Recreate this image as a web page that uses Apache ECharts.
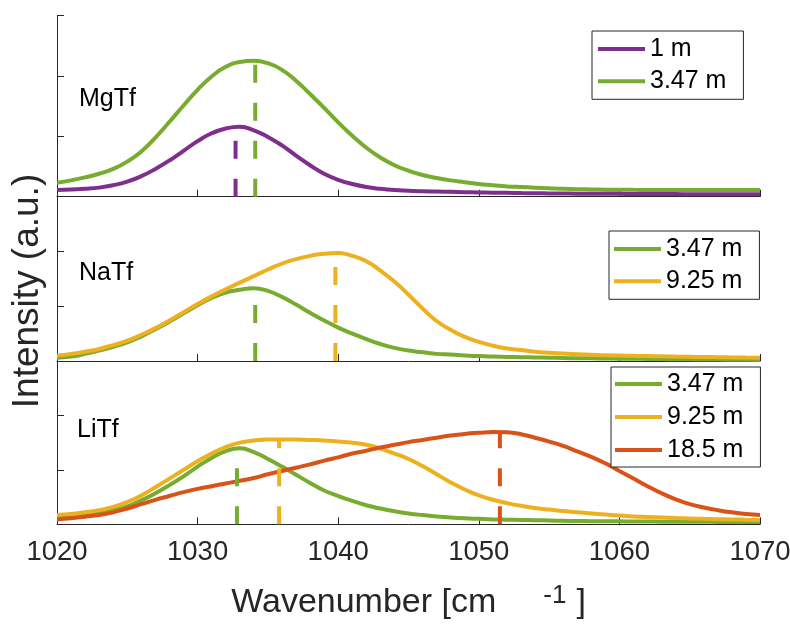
<!DOCTYPE html>
<html><head><meta charset="utf-8">
<script src="https://cdn.jsdelivr.net/npm/echarts@6/dist/echarts.min.js"></script>
<style>html,body{margin:0;padding:0;background:#fff}#c{width:790px;height:624px}</style>
</head><body><div id="c"></div>
<script>
// ---- data ----
const wavenumber = [1020,1021,1022,1023,1024,1025,1026,1027,1028,1029,1030,1031,1032,1033,1034,1035,1036,1037,1038,1039,1040,1041,1042,1043,1044,1045,1046,1047,1048,1049,1050,1051,1052,1053,1054,1055,1056,1057,1058,1059,1060,1061,1062,1063,1064,1065,1066,1067,1068,1069,1070];

// MgTf panel
const mg_1m = [0.11,0.12,0.13,0.15,0.19,0.25,0.34,0.46,0.60,0.76,0.92,1.05,1.13,1.16,1.10,0.99,0.85,0.68,0.52,0.38,0.28,0.21,0.16,0.13,0.11,0.10,0.09,0.085,0.08,0.075,0.07,0.067,0.064,0.06,0.057,0.055,0.052,0.05,0.05,0.048,0.047,0.046,0.045,0.044,0.043,0.042,0.042,0.041,0.04,0.04,0.04];
const mg_347m = [0.23,0.27,0.32,0.38,0.46,0.58,0.75,0.98,1.24,1.51,1.77,1.99,2.15,2.23,2.25,2.21,2.10,1.92,1.70,1.47,1.23,1.01,0.81,0.65,0.52,0.43,0.36,0.31,0.27,0.24,0.21,0.19,0.17,0.16,0.15,0.14,0.13,0.125,0.12,0.117,0.115,0.113,0.112,0.111,0.11,0.11,0.11,0.11,0.11,0.11,0.11];
// NaTf panel
const na_347m = [0.06,0.08,0.13,0.19,0.26,0.34,0.45,0.58,0.72,0.87,1.02,1.15,1.25,1.30,1.33,1.28,1.17,1.03,0.88,0.74,0.61,0.50,0.40,0.31,0.24,0.19,0.16,0.13,0.12,0.10,0.09,0.08,0.075,0.07,0.065,0.06,0.055,0.05,0.048,0.045,0.042,0.04,0.038,0.035,0.033,0.03,0.028,0.026,0.024,0.022,0.02];
const na_925m = [0.10,0.13,0.17,0.22,0.29,0.37,0.48,0.60,0.74,0.89,1.04,1.18,1.31,1.43,1.55,1.67,1.78,1.86,1.92,1.96,1.97,1.92,1.82,1.65,1.45,1.21,0.96,0.73,0.57,0.44,0.35,0.28,0.23,0.20,0.17,0.15,0.135,0.125,0.115,0.105,0.10,0.095,0.09,0.085,0.08,0.077,0.073,0.07,0.066,0.063,0.06];
// LiTf panel
const li_347m = [0.11,0.13,0.16,0.20,0.26,0.33,0.44,0.57,0.72,0.88,1.06,1.22,1.345,1.395,1.325,1.20,1.06,0.91,0.76,0.62,0.52,0.43,0.35,0.29,0.24,0.20,0.17,0.145,0.125,0.11,0.10,0.09,0.085,0.08,0.075,0.07,0.065,0.06,0.058,0.056,0.054,0.052,0.05,0.049,0.048,0.046,0.045,0.044,0.042,0.041,0.04];
const li_925m = [0.17,0.19,0.22,0.26,0.32,0.41,0.53,0.68,0.84,1.00,1.16,1.30,1.42,1.50,1.54,1.56,1.56,1.56,1.55,1.54,1.52,1.50,1.46,1.39,1.30,1.20,1.07,0.92,0.77,0.64,0.53,0.45,0.39,0.34,0.30,0.27,0.245,0.22,0.20,0.18,0.16,0.145,0.135,0.125,0.115,0.107,0.10,0.095,0.09,0.085,0.08];
const li_185m = [0.09,0.11,0.14,0.17,0.22,0.29,0.37,0.45,0.52,0.59,0.65,0.70,0.75,0.80,0.85,0.92,0.98,1.04,1.10,1.17,1.23,1.30,1.35,1.41,1.46,1.51,1.55,1.59,1.63,1.66,1.68,1.695,1.69,1.655,1.59,1.52,1.44,1.34,1.24,1.12,0.98,0.84,0.70,0.57,0.46,0.37,0.31,0.26,0.22,0.19,0.17];

// peak markers (position, height)
const mg_peakPos = [1032.7, 1034.1];
const mg_peakHeight = [1.16, 2.25];
const na_peakPos = [1034.1, 1039.8];
const na_peakHeight = [1.33, 1.97];
const li_peakPos = [1032.8, 1035.8, 1051.5];
const li_peakHeight = [1.40, 1.56, 1.70];

const panelNames = ['MgTf', 'NaTf', 'LiTf'];
const mgLegend = ['1 m', '3.47 m'];
const naLegend = ['3.47 m', '9.25 m'];
const liLegend = ['3.47 m', '9.25 m', '18.5 m'];

// ---- styles ----
const PURPLE = '#7E2F8E', GREEN = '#77AC30', YELLOW = '#EDB120', ORANGE = '#D95319';
const AX = '#262626';
const FONT = "'Liberation Sans', Arial, Helvetica, sans-serif";

const gridBox = [
  {top: 15.5, height: 181.2},
  {top: 196.7, height: 164.3},
  {top: 361, height: 163.3}
];

function curve(name, vals, color, gi) {
  return {
    type: 'line', name: name, xAxisIndex: gi, yAxisIndex: gi,
    data: wavenumber.map((x, i) => [x, vals[i]]),
    smooth: 0.5, symbol: 'none', color: color,
    lineStyle: {color: color, width: 4}, silent: true, z: 2
  };
}
function peakLine(pos, h, color, gi, k) {
  return {
    type: 'line', name: 'peak' + gi + '_' + k, xAxisIndex: gi, yAxisIndex: gi,
    data: [[pos, 0], [pos, h]], symbol: 'none', color: color,
    lineStyle: {color: color, width: 4, type: [18, 20], cap: 'butt'}, silent: true, z: 3
  };
}

const series = [
  curve('3.47 m', mg_347m, GREEN, 0),
  curve('1 m', mg_1m, PURPLE, 0),
  peakLine(mg_peakPos[0], mg_peakHeight[0], PURPLE, 0, 0),
  peakLine(mg_peakPos[1], mg_peakHeight[1], GREEN, 0, 1),
  curve('3.47 m', na_347m, GREEN, 1),
  curve('9.25 m', na_925m, YELLOW, 1),
  peakLine(na_peakPos[0], na_peakHeight[0], GREEN, 1, 0),
  peakLine(na_peakPos[1], na_peakHeight[1], YELLOW, 1, 1),
  curve('3.47 m', li_347m, GREEN, 2),
  curve('9.25 m', li_925m, YELLOW, 2),
  curve('18.5 m', li_185m, ORANGE, 2),
  peakLine(li_peakPos[0], li_peakHeight[0], GREEN, 2, 0),
  peakLine(li_peakPos[1], li_peakHeight[1], YELLOW, 2, 1),
  peakLine(li_peakPos[2], li_peakHeight[2], ORANGE, 2, 2)
];

const xAxes = gridBox.map((g, i) => ({
  type: 'value', gridIndex: i, min: 1020, max: 1070, interval: 10,
  axisLine: {show: true, lineStyle: {color: AX, width: 1}},
  axisTick: {show: true, inside: true, length: 7, lineStyle: {color: AX}},
  splitLine: {show: false},
  axisLabel: {show: i === 2, fontSize: 27.5, fontFamily: FONT, color: AX, margin: 14, lineHeight: 28,
              formatter: v => String(v), hideOverlap: false},
  name: i === 2 ? '{a|Wavenumber [cm}{s|-1}{a|]}' : '',
  nameLocation: 'middle', nameGap: 59,
  nameTextStyle: {
    rich: {
      a: {fontSize: 34, fontFamily: FONT, color: AX, lineHeight: 36, verticalAlign: 'bottom'},
      s: {fontSize: 26, fontFamily: FONT, color: AX, lineHeight: 26, verticalAlign: 'top', padding: [0, 10, 18, 47]}
    }
  }
}));
const yAxes = gridBox.map((g, i) => ({
  type: 'value', gridIndex: i, min: 0, max: 3, interval: 1,
  axisLine: {show: true, lineStyle: {color: AX, width: 1}},
  axisTick: {show: true, inside: true, length: 7, lineStyle: {color: AX}},
  splitLine: {show: false},
  axisLabel: {show: false}
}));

function legend(names, left, top, padding, gap) {
  return {
    data: names, orient: 'vertical', left: left, top: top, padding: padding, itemGap: gap,
    icon: 'rect', itemWidth: 47, itemHeight: 4,
    borderColor: AX, borderWidth: 1, backgroundColor: '#fff', borderRadius: 0,
    selectedMode: false,
    textStyle: {fontSize: 25, fontFamily: FONT, color: '#000', lineHeight: 26}
  };
}

const option = {
  animation: false,
  backgroundColor: '#fff',
  grid: gridBox.map(g => ({left: 57, width: 703, top: g.top, height: g.height, containLabel: false, outerBoundsMode: 'none'})),
  xAxis: xAxes,
  yAxis: yAxes,
  legend: [
    legend(mgLegend, 592, 31, [5, 17, 5, 6], 6.3),
    legend(naLegend, 609, 231, [5, 17, 5, 5], 6.3),
    legend(liLegend, 611, 367, [4, 17, 4, 4], 7)
  ],
  graphic: [
    {type: 'text', left: 79, top: 99 - 12, style: {text: panelNames[0], fontSize: 25, fontFamily: FONT, fill: '#000'}},
    {type: 'text', left: 79, top: 273 - 12, style: {text: panelNames[1], fontSize: 25, fontFamily: FONT, fill: '#000'}},
    {type: 'text', left: 77, top: 430 - 12, style: {text: panelNames[2], fontSize: 25, fontFamily: FONT, fill: '#000'}},
    {type: 'text', x: 28, y: 291, rotation: Math.PI / 2,
     style: {text: 'Intensity (a.u.)', fontSize: 37, fontFamily: FONT, fill: AX, align: 'center', verticalAlign: 'middle'}}
  ],
  series: series
};
const chart = echarts.init(document.getElementById('c'), null, {renderer: 'canvas'});
chart.setOption(option);
</script>
</body></html>
